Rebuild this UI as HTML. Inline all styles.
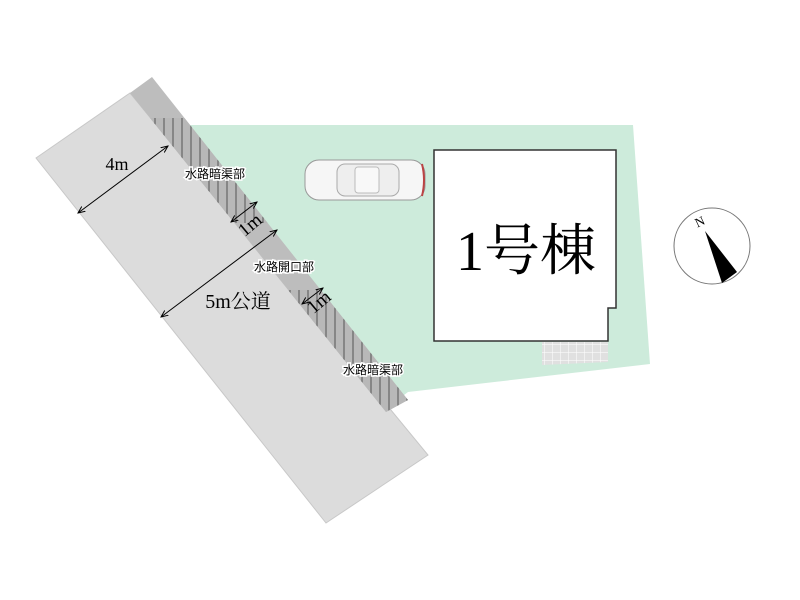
<!DOCTYPE html>
<html><head><meta charset="utf-8"><style>
body{margin:0;background:#fff}
svg{display:block}
text{font-family:"Liberation Serif","Noto Serif CJK SC",serif}
.s{font-family:"Liberation Sans","Noto Sans CJK JP",sans-serif;font-size:12px;paint-order:stroke;stroke:#fff;stroke-width:3px}
</style></head><body>
<svg width="800" height="600" viewBox="0 0 800 600">
<defs>
<pattern id="h" width="9" height="9" patternUnits="userSpaceOnUse">
<rect width="9" height="9" fill="#b8b8b8"/><line x1="2" y1="0" x2="2" y2="9" stroke="#555" stroke-width="1"/></pattern>
<pattern id="g" width="8" height="8" patternUnits="userSpaceOnUse">
<rect width="8" height="8" fill="#e0e0e0"/><path d="M0 0H8M0 0V8" stroke="#fff" stroke-width="1"/></pattern>
<marker id="a" markerWidth="8" markerHeight="8" refX="7" refY="4" orient="auto-start-reverse"><path d="M0,1 L7,4 L0,7" fill="none" stroke="#000" stroke-width="1"/></marker>
<clipPath id="sc"><polygon points="130,93 152,77 408,400 386,412"/></clipPath>
</defs>
<polygon points="175,125 633,125 650,364 408,392 395,402" fill="#cdebdb"/>
<polygon points="36,158 130,93 428,455 326,523" fill="#dcdcdc" stroke="#c8c8c8"/>
<polygon points="130,93 152,77 408,400 386,412" fill="#bdbdbd"/>
<g clip-path="url(#sc)">
<rect x="120" y="118" width="300" height="105" fill="url(#h)"/>
<rect x="120" y="290" width="300" height="125" fill="url(#h)"/>
</g>
<g transform="translate(305,158)">
<rect x="0" y="2" width="120" height="40" rx="14" fill="#f6f6f6" stroke="#999"/>
<rect x="32" y="6" width="62" height="32" rx="8" fill="#eee" stroke="#aaa"/>
<rect x="50" y="9" width="24" height="26" rx="3" fill="#f8f8f8" stroke="#bbb"/>
<path d="M117 6 Q121 22 117 38" stroke="#b44" stroke-width="2" fill="none"/>
</g>
<polygon points="434,150 616,150 616,308 608,308 608,341 434,341" fill="#fff" stroke="#333" stroke-width="1.5"/>
<polygon points="542,342 608,342 608,362 542,365" fill="url(#g)"/>
<text x="526" y="270" font-size="56" text-anchor="middle">1号棟</text>
<circle cx="712" cy="246" r="38" fill="#fff" stroke="#777"/>
<polygon points="705,231 722,283 737,272" fill="#000"/>
<text x="700" y="226" font-size="13" transform="rotate(-25 700 222)" text-anchor="middle">N</text>
<g stroke="#000" stroke-width="1" marker-start="url(#a)" marker-end="url(#a)">
<line x1="78" y1="213" x2="168" y2="146"/>
<line x1="231" y1="222" x2="257" y2="202"/>
<line x1="161" y1="317" x2="277" y2="230"/>
<line x1="302" y1="304" x2="323" y2="288"/>
</g>
<text x="117" y="170" font-size="18" text-anchor="middle">4m</text>
<text x="250" y="231" font-size="19" text-anchor="middle" transform="rotate(-40 250 225)">1m</text>
<text x="319" y="308" font-size="19" text-anchor="middle" transform="rotate(-40 319 302)">1m</text>
<text x="238" y="308" font-size="20" text-anchor="middle">5m公道</text>
<text class="s" x="215" y="178" text-anchor="middle">水路暗渠部</text>
<text class="s" x="284" y="271" text-anchor="middle">水路開口部</text>
<text class="s" x="373" y="374" text-anchor="middle">水路暗渠部</text>
</svg>
</body></html>
